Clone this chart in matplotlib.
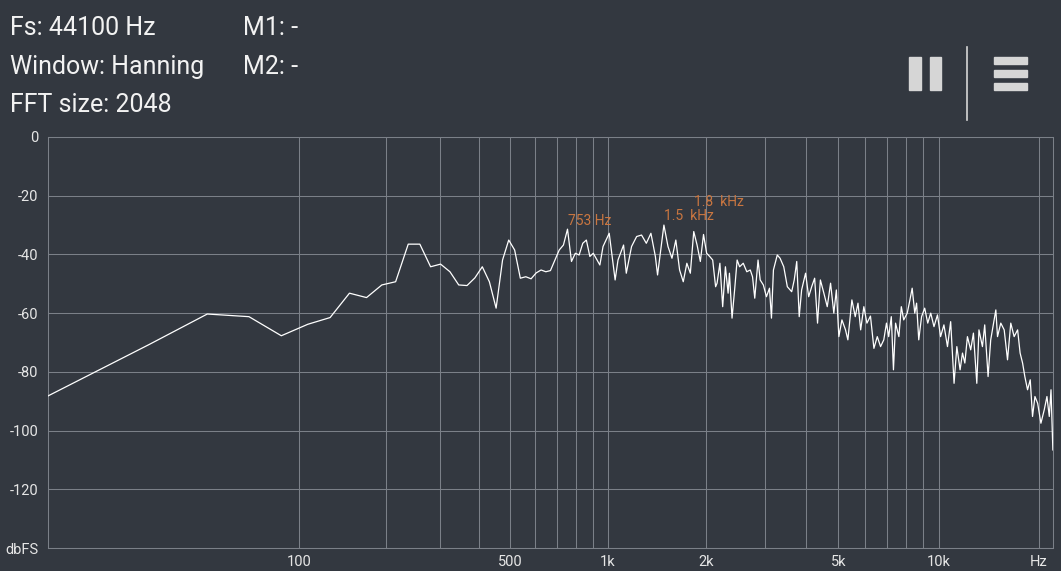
import numpy as np
import matplotlib.pyplot as plt
from matplotlib.patches import Rectangle
from matplotlib.lines import Line2D

# spectre FFT (Fs = 44100 Hz, 2048 points, fenetre de Hanning)
FS = 44100
NFFT = 2048
DF = FS / NFFT

bin_index = [0, 1, 2, 3, 4, 5, 6, 7, 8, 9, 10, 11, 12, 13, 14, 15, 16, 17, 18, 19,
             20, 21, 22, 23, 24, 25, 26, 27, 28, 29, 30, 31, 32, 33, 34, 35, 36, 37, 38, 39,
             40, 41, 42, 44, 45, 47, 49, 50, 52, 53, 55, 57, 59, 61, 63, 65, 66, 69, 71, 73,
             75, 77, 79, 81, 83, 85, 87, 89, 91, 93, 95, 97, 99, 100, 102, 104, 106, 108, 109, 111,
             113, 115, 117, 120, 123, 126, 128, 130, 133, 135, 138, 141, 144, 146, 148, 152, 155, 159, 163, 168,
             171, 174, 177, 180, 185, 189, 193, 197, 201, 205, 210, 215, 220, 225, 229, 233, 238, 244, 248, 255,
             261, 266, 271, 277, 283, 290, 297, 304, 311, 318, 324, 329, 335, 340, 345, 353, 359, 365, 374, 381,
             387, 394, 399, 405, 413, 422, 431, 440, 450, 461, 471, 482, 494, 505, 517, 527, 539, 548, 557, 567,
             580, 591, 605, 614, 629, 639, 654, 666, 690, 698, 714, 731, 748, 765, 783, 802, 816, 830, 843, 859,
             875, 889, 904, 921, 942, 964, 982, 998, 1010, 1023]
level_db = [-88.2, -70.8, -60.3, -61.2, -67.7, -63.8, -61.5, -53.2, -54.7, -50.4,
            -49.3, -36.5, -36.5, -44.2, -43.3, -45.9, -50.4, -50.6, -48.0, -44.2,
            -49.3, -58.3, -41.9, -35.1, -38.5, -48.1, -47.6, -48.3, -46.3, -45.3,
            -45.9, -45.5, -41.9, -38.5, -36.8, -31.4, -42.4, -39.6, -40.2, -36.2,
            -35.1, -40.7, -39.6, -43.6, -37.3, -32.8, -48.7, -41.9, -36.8, -46.4,
            -37.3, -33.9, -33.4, -36.2, -32.8, -40.7, -47.0, -30.0, -37.3, -41.3,
            -35.1, -45.3, -49.3, -43.0, -46.4, -32.2, -36.8, -42.4, -33.2, -39.6,
            -40.7, -41.9, -51.0, -49.8, -43.0, -57.8, -44.2, -53.2, -46.4, -61.7,
            -52.1, -41.9, -44.2, -43.0, -45.9, -45.3, -47.6, -54.9, -41.9, -48.7,
            -50.4, -54.4, -51.5, -61.7, -45.3, -40.2, -41.3, -44.2, -51.0, -52.7,
            -48.7, -42.4, -61.2, -52.1, -46.4, -54.4, -51.0, -48.1, -63.4, -48.7,
            -53.2, -57.8, -49.8, -60.0, -52.1, -68.0, -62.3, -65.7, -69.1, -55.5,
            -61.2, -56.6, -65.7, -57.8, -63.4, -61.0, -72.0, -68.0, -71.4, -69.1,
            -63.4, -68.0, -61.2, -79.3, -63.4, -68.0, -57.8, -62.3, -60.0, -55.5,
            -51.5, -60.0, -56.6, -69.1, -61.2, -58.3, -63.4, -60.0, -64.6, -60.6,
            -68.0, -64.0, -71.4, -62.9, -83.9, -71.4, -79.3, -73.6, -77.0, -68.0,
            -72.5, -66.8, -83.9, -65.7, -71.4, -64.0, -81.6, -69.1, -58.9, -68.0,
            -63.4, -65.7, -75.9, -63.4, -68.0, -65.7, -73.6, -77.0, -81.6, -86.1,
            -82.7, -95.2, -88.4, -90.7, -97.5, -92.9, -88.4, -95.2, -86.1, -106.6]

# pics marques
peak_freq = [753.7, 1486.0, 1830.0]
peak_db = [-30.0, -28.3, -23.4]
peak_text = ["753 Hz", "1.5  kHz", "1.8  kHz"]

major_ticks = [100, 500, 1000, 2000, 5000, 10000, 20000]
major_labels = ["100", "500", "1k", "2k", "5k", "10k", "Hz"]
minor_ticks = [200, 300, 400, 600, 700, 800, 900, 3000, 4000, 6000, 7000, 8000, 9000]
db_ticks = [0, -20, -40, -60, -80, -100, -120, -140]
db_labels = ["0", "-20", "-40", "-60", "-80", "-100", "-120", "dbFS"]

fond = "#333840"
grille = "#7b8088"
texte = "#e6e6e6"
orange = "#c97640"
icone = "#d6d6d6"

plt.rcParams['font.family'] = ['Roboto', 'DejaVu Sans']


def fwd(f):
    return np.log10(np.asarray(f, dtype=float) / DF + 1)


def inv(v):
    return (10 ** np.asarray(v, dtype=float) - 1) * DF


fig = plt.figure(figsize=(10.61, 5.71), dpi=100, facecolor=fond)
ax = fig.add_axes([48 / 1061, 1 - 548 / 571, 1005 / 1061, 411 / 571])
ax.set_facecolor(fond)
ax.set_xscale('function', functions=(fwd, inv))
ax.set_xlim(0, FS / 2)
ax.set_ylim(-140, 0)

freq = np.array(bin_index) * DF
ax.plot(freq, level_db, color="white", lw=0.9, zorder=3)

for f, d, t in zip(peak_freq, peak_db, peak_text):
    ax.text(f, d, t, color=orange, fontsize=10, ha='left', va='baseline', zorder=4)

ax.set_xticks(major_ticks)
ax.set_xticklabels(major_labels)
ax.set_xticks(minor_ticks, minor=True)
ax.set_yticks(db_ticks)
ax.set_yticklabels(db_labels)
ax.tick_params(axis='both', which='both', length=0, colors=texte, labelsize=10.5)
ax.tick_params(axis='y', pad=7)
ax.tick_params(axis='x', pad=5)
ax.grid(True, which='both', color=grille, lw=0.75)
for s in ax.spines.values():
    s.set_color(grille)
    s.set_linewidth(0.75)

# en-tete
entete = [("Fs: 44100 Hz", 10, 35), ("Window: Hanning", 10, 74), ("FFT size: 2048", 10, 112),
          ("M1: -", 243, 35), ("M2: -", 243, 74)]
for t, x, y in entete:
    fig.text(x / 1061, 1 - y / 571, t, color="#f2f2f2", fontsize=18, ha='left', va='baseline')

# icones pause / menu
W, H = 1061, 571
def rect(x0, y0, x1, y1):
    fig.patches.append(Rectangle((x0 / W, 1 - y1 / H), (x1 - x0) / W, (y1 - y0) / H,
                                 transform=fig.transFigure, color=icone))

rect(909, 57, 921, 90)
rect(930, 57, 941, 90)
rect(994, 57, 1027, 64)
rect(994, 70, 1027, 77)
rect(994, 83, 1027, 90)
fig.lines.append(Line2D([967 / W, 967 / W], [1 - 47 / H, 1 - 120 / H], transform=fig.transFigure,
                        color=icone, lw=1.2))

fig.savefig("out.png", dpi=100, facecolor=fond)
